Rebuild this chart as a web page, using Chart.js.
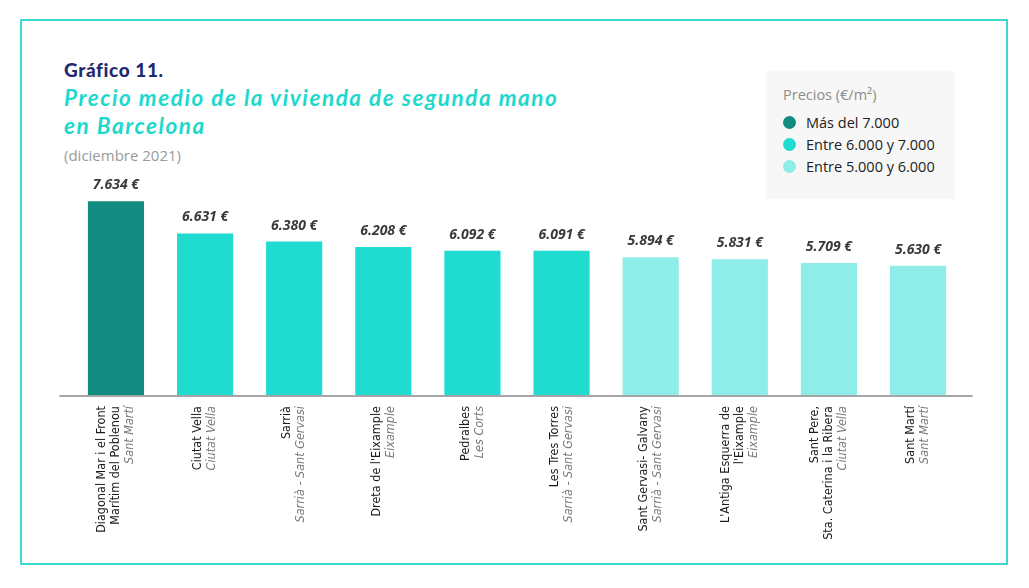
<!DOCTYPE html>
<html>
<head>
<meta charset="utf-8">
<script src="https://cdn.jsdelivr.net/npm/chart.js@4.4.1/dist/chart.umd.min.js"></script>
<style>
  html, body { margin: 0; padding: 0; background: #ffffff; }
  #wrap { position: relative; width: 1029px; height: 588px; overflow: hidden; }
  #frame { position: absolute; left: 20px; top: 19px; width: 988px; height: 546px; border: 2px solid #3dd9d0; box-sizing: border-box; }
  #c { position: absolute; left: 0; top: 0; }
  .t1 { position: absolute; left: 64px; top: 58px; font: 900 19px Lato, sans-serif; color: #1f2a6e; letter-spacing: 0.6px; }
  .t2 { position: absolute; left: 64px; top: 84px; font: italic 700 22.5px Lato, sans-serif; color: #1fd8cd; line-height: 28px; letter-spacing: 1.55px; }
  .t3 { position: absolute; left: 64px; top: 145px; font: 400 15px 'Open Sans', sans-serif; color: #9a9a9a; }
  #legend { position: absolute; left: 766px; top: 71px; width: 189px; height: 128px; background: #f7f7f7; }
  #legend .lt { position: absolute; left: 17px; top: 14px; font: 400 14.5px 'Open Sans', sans-serif; color: #8c8c8c; }
  #legend .it { position: absolute; left: 17px; font: 400 14.5px 'Open Sans', sans-serif; color: #222; white-space: nowrap; }
  #legend .dot { display: inline-block; width: 13px; height: 13px; border-radius: 50%; vertical-align: -1px; margin-right: 10px; }
</style>
</head>
<body>
<div id="wrap">
  <div id="frame"></div>
  <div class="t1">Gráfico 11.</div>
  <div class="t2">Precio medio de la vivienda de segunda mano<br>en Barcelona</div>
  <div class="t3">(diciembre 2021)</div>
  <div id="legend"></div>
  <canvas id="c" width="1029" height="588"></canvas>
</div>
<script>
// ---- Data ----
const barrios = [
  ["Diagonal Mar i el Front", "Marítim del Poblenou"],
  ["Ciutat Vella"],
  ["Sarrià"],
  ["Dreta de l'Eixample"],
  ["Pedralbes"],
  ["Les Tres Torres"],
  ["Sant Gervasi- Galvany"],
  ["L'Antiga Esquerra de", "l'Eixample"],
  ["Sant Pere,", "Sta. Caterina i la Ribera"],
  ["Sant Martí"]
];
const distritos = [
  "Sant Martí", "Ciutat Vella", "Sarrià - Sant Gervasi", "Eixample", "Les Corts",
  "Sarrià - Sant Gervasi", "Sarrià - Sant Gervasi", "Eixample", "Ciutat Vella", "Sant Martí"
];
const precios = [7634, 6631, 6380, 6208, 6092, 6091, 5894, 5831, 5709, 5630];
const rangos = ["Más del 7.000", "Entre 6.000 y 7.000", "Entre 5.000 y 6.000"];
const rangoMin = [7000, 6000, 5000];
const legendTitle = "Precios (€/m²)";

const rangoColors = ["#128c81", "#1fdbd0", "#8eede8"];
function colorFor(v) {
  for (let i = 0; i < rangoMin.length; i++) if (v > rangoMin[i]) return rangoColors[i];
  return rangoColors[rangoColors.length - 1];
}

// HTML legend
const lg = document.getElementById('legend');
const lt = document.createElement('div'); lt.className = 'lt'; lt.textContent = legendTitle; lg.appendChild(lt);
rangos.forEach((r, i) => {
  const d = document.createElement('div'); d.className = 'it'; d.style.top = (42 + i * 22) + 'px';
  d.innerHTML = '<span class="dot" style="background:' + rangoColors[i] + '"></span>' + r;
  lg.appendChild(d);
});

const fmt = v => v.toLocaleString('de-DE') + ' €';

const labelsPlugin = {
  id: 'customLabels',
  afterDatasetsDraw(chart) {
    const ctx = chart.ctx;
    const meta = chart.getDatasetMeta(0);
    const xs = chart.scales.x;
    const ca = chart.chartArea;
    ctx.save();
    // axis line
    ctx.strokeStyle = '#a6a6a6';
    ctx.lineWidth = 2;
    ctx.beginPath();
    ctx.moveTo(ca.left - 12, ca.bottom + 1);
    ctx.lineTo(ca.right + 10, ca.bottom + 1);
    ctx.stroke();
    // value labels
    ctx.fillStyle = '#3a3a3a';
    ctx.font = 'italic 700 14px "Open Sans", sans-serif';
    ctx.textAlign = 'center';
    ctx.textBaseline = 'middle';
    meta.data.forEach((bar, i) => {
      ctx.fillText(fmt(precios[i]), bar.x, bar.y - 16);
    });
    // category labels (rotated)
    const topY = ca.bottom + 11;
    const lh = 14;
    barrios.forEach((lines, i) => {
      const cx = xs.getPixelForValue(i);
      const all = lines.map(t => ({ t, italic: false })).concat([{ t: distritos[i], italic: true }]);
      const n = all.length;
      all.forEach((ln, j) => {
        const x = cx + (j - (n - 1) / 2) * lh;
        ctx.save();
        ctx.translate(x, topY);
        ctx.rotate(-Math.PI / 2);
        ctx.textAlign = 'right';
        ctx.textBaseline = 'middle';
        ctx.font = (ln.italic ? 'italic ' : '') + '12.5px "Liberation Sans Narrow", "DejaVu Sans Condensed", sans-serif';
        ctx.fillStyle = ln.italic ? '#7a7a7a' : '#1a1a1a';
        ctx.fillText(ln.t, 0, 0);
        ctx.restore();
      });
    });
    ctx.restore();
  }
};

new Chart(document.getElementById('c'), {
  type: 'bar',
  data: {
    labels: barrios.map(b => b.join(' ')),
    datasets: [{
      data: precios,
      backgroundColor: precios.map(colorFor),
      borderWidth: 0,
      barPercentage: 0.63,
      categoryPercentage: 1.0
    }]
  },
  options: {
    responsive: false,
    animation: false,
    devicePixelRatio: 1,
    layout: { padding: { left: 71.4, right: 66.4, top: 190, bottom: 193 } },
    plugins: { legend: { display: false }, tooltip: { enabled: false } },
    scales: {
      x: { display: false },
      y: { display: false, min: 1600, max: 7986 }
    }
  },
  plugins: [labelsPlugin]
});
</script>
</body>
</html>
